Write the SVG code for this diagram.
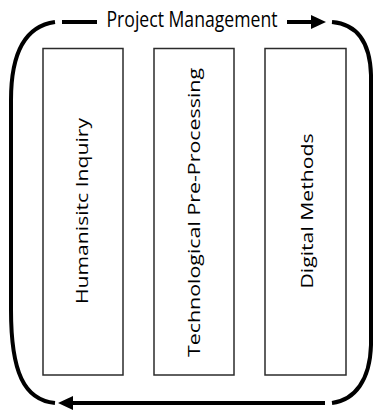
<svg xmlns="http://www.w3.org/2000/svg" width="373" height="412" viewBox="0 0 373 412">
  <defs>
    <style>
      .box { fill: #ffffff; stroke: #2b2b2b; stroke-width: 1.5; }
      .lbl { font-family: "Open Sans", "DejaVu Sans", sans-serif; font-size: 16px; fill: #000000; text-anchor: middle; }
      .title { font-family: "Open Sans", "Liberation Sans", sans-serif; font-size: 21px; fill: #000000; }
      .flow { fill: none; stroke: #000000; stroke-width: 4; }
      .head { fill: #000000; }
    </style>
  </defs>
  <rect width="373" height="412" fill="#ffffff"/>
  <g id="connectors">
    <path class="flow" d="M55,22 Q11,28 11,100 L11,310 C11,372 24,400 55,403"/>
    <path class="flow" d="M332,22 C355,24 370,40 371,75 L371,345 C370,380 355,400 332,403"/>
    <path class="flow" d="M62,22 L97,22"/>
    <path class="flow" d="M287,22 L313,22"/>
    <polygon class="head" points="311,15 326,22 311,29"/>
    <path class="flow" d="M325,403 L71,403"/>
    <polygon class="head" points="73,396 58,403 73,410"/>
    <text id="title" class="title" x="106.5" y="27" textLength="171" lengthAdjust="spacingAndGlyphs">Project Management</text>
  </g>
  <g id="humanistic-inquiry">
    <rect class="box" x="43" y="48.5" width="80" height="326.5"/>
    <text class="lbl" transform="translate(88,211) rotate(-90)" x="0" y="0" textLength="186" lengthAdjust="spacingAndGlyphs">Humanisitc Inquiry</text>
  </g>
  <g id="technological-pre-processing">
    <rect class="box" x="154" y="48.5" width="80" height="326.5"/>
    <text class="lbl" transform="translate(200,212.5) rotate(-90)" x="0" y="0" textLength="289" lengthAdjust="spacingAndGlyphs">Technological Pre-Processing</text>
  </g>
  <g id="digital-methods">
    <rect class="box" x="265" y="48.5" width="81" height="326.5"/>
    <text class="lbl" transform="translate(313,211) rotate(-90)" x="0" y="0" textLength="155" lengthAdjust="spacingAndGlyphs">Digital Methods</text>
  </g>
</svg>
